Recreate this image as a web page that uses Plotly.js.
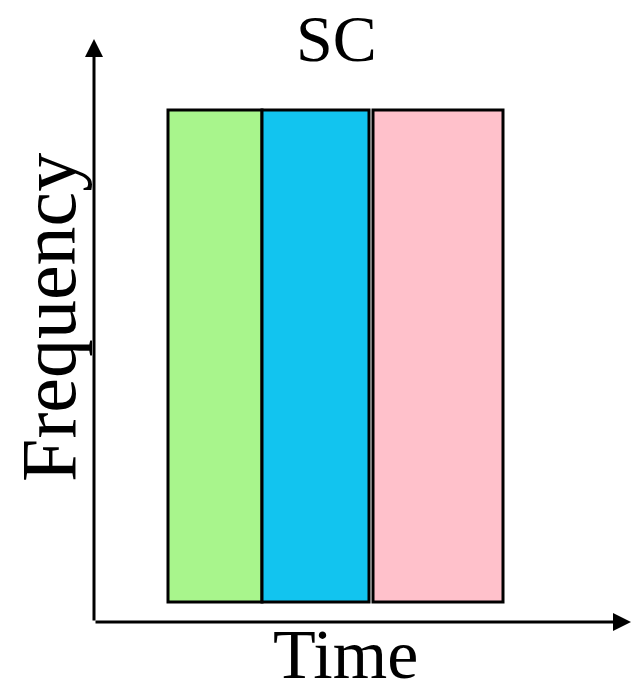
<!DOCTYPE html>
<html><head><meta charset="utf-8">
<script src="https://cdn.plot.ly/plotly-3.0.1.min.js"></script>
<style>html,body{margin:0;padding:0;background:#fff}</style>
</head><body>
<div id="chart" style="width:634px;height:695px"></div>
<script>
// Data
const segments = ["seg1", "seg2", "seg3"];
const timeStart = [74, 168, 279];
const timeEnd = [168, 275, 409];
const freqLow = [20, 20, 20];
const freqHigh = [512, 512, 512];
const colors = ["#a8f58c", "#12c4ef", "#ffc1cb"];
const titleText = "SC";
const xLabel = "Time";
const yLabel = "Frequency";

const xMax = 538, yMax = 584;

const trace = {
  type: "bar",
  x: timeStart.map((s, i) => (s + timeEnd[i]) / 2),
  width: timeStart.map((s, i) => timeEnd[i] - s),
  base: freqLow,
  y: freqHigh.map((h, i) => h - freqLow[i]),
  marker: {color: colors, line: {color: "#000", width: 3}},
  hoverinfo: "none",
  text: segments, textposition: "none"
};

const font = "Liberation Serif, Times New Roman, serif";
const layout = {
  width: 634, height: 695,
  margin: {l: 94, r: 2, t: 38, b: 73},
  paper_bgcolor: "#fff", plot_bgcolor: "#fff",
  showlegend: false,
  xaxis: {range: [0, xMax], showgrid: false, zeroline: false, showticklabels: false, ticks: "", showline: false, fixedrange: true},
  yaxis: {range: [0, yMax], showgrid: false, zeroline: false, showticklabels: false, ticks: "", showline: false, fixedrange: true},
  annotations: [
    {x: xMax - 1, y: 0, ax: 0, ay: 0, xref: "x", yref: "y", axref: "x", ayref: "y",
     showarrow: true, arrowhead: 2, arrowsize: 1.2, arrowwidth: 3, arrowcolor: "#000", text: ""},
    {x: 0, y: yMax - 1, ax: 0, ay: 0, xref: "x", yref: "y", axref: "x", ayref: "y",
     showarrow: true, arrowhead: 2, arrowsize: 1.2, arrowwidth: 3, arrowcolor: "#000", text: ""},
    {text: titleText, x: 336, y: 1, yanchor: "top", borderpad: 0, showarrow: false, font: {family: font, size: 66, color: "#000"}},
    {text: xLabel, x: 345, y: 694, yanchor: "bottom", borderpad: 0, showarrow: false, font: {family: font, size: 70, color: "#000"}},
    {text: yLabel, x: 48, y: 318, yanchor: "middle", showarrow: false, textangle: -90, font: {family: font, size: 78, color: "#000"}}
  ]
};
// convert pixel positions for text annotations to paper coords
const pw = 634 - 94 - 2, ph = 695 - 38 - 73;
for (let i = 2; i < 5; i++) {
  const a = layout.annotations[i];
  a.xref = "paper"; a.yref = "paper";
  a.x = (a.x - 94) / pw;
  a.y = (695 - 73 - a.y) / ph;
  a.xanchor = "center";
}

Plotly.newPlot("chart", [trace], layout, {displayModeBar: false, staticPlot: true});
</script>
</body></html>
